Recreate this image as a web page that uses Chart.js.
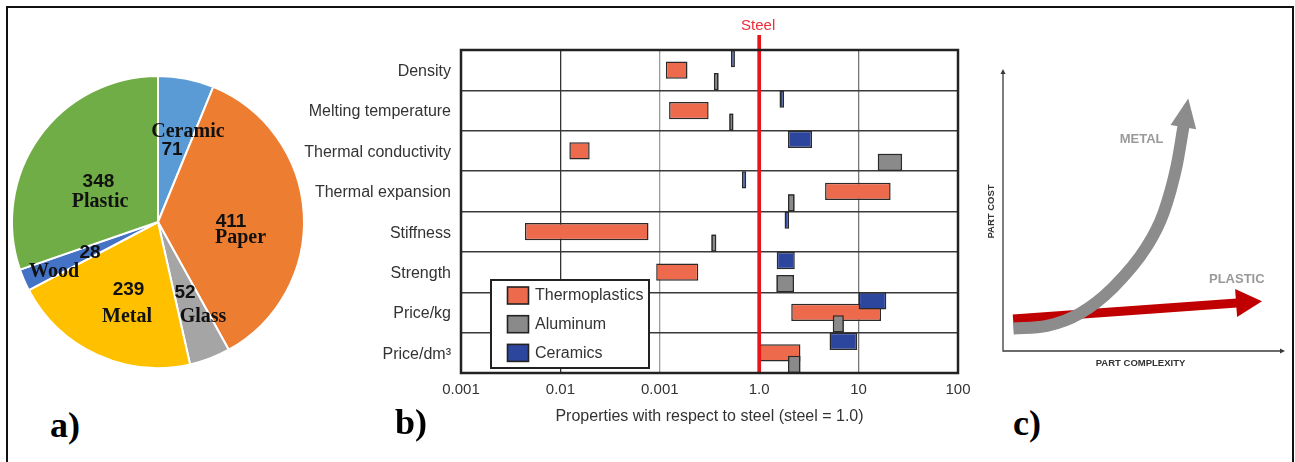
<!DOCTYPE html>
<html>
<head>
<meta charset="utf-8">
<script src="https://cdn.jsdelivr.net/npm/chart.js"></script>
<style>
  html, body { margin: 0; padding: 0; background: #fff; }
  body { width: 1295px; height: 462px; position: relative; overflow: hidden; }
  #frame { position: absolute; left: 6px; top: 6px; width: 1288px; height: 480px;
           box-sizing: border-box; border: 2px solid #111; border-bottom: none; }
  .panel { position: absolute; }
  .panel canvas { display: block; }
  #cost { filter: blur(0.6px); }
  .tag { position: absolute; font: bold 36px "Liberation Serif", "Times New Roman", serif;
         line-height: 1; color: #000; }
</style>
</head>
<body>
<div id="frame"></div>
<div class="panel" style="left:0;top:60px"><canvas id="pie" width="320" height="320"></canvas></div>
<div class="panel" style="left:300px;top:0"><canvas id="props" width="690" height="440"></canvas></div>
<div class="panel" style="left:975px;top:40px"><canvas id="cost" width="315" height="340"></canvas></div>
<div class="tag" style="left:50px;top:407px">a)</div>
<div class="tag" style="left:395px;top:404px">b)</div>
<div class="tag" style="left:1013px;top:405px">c)</div>

<script>
// ---------- a) material shares ----------
const materialNames   = ['Ceramic', 'Paper', 'Glass', 'Metal', 'Wood', 'Plastic'];
const materialAmounts = [71, 411, 52, 239, 28, 348];
const materialColors  = ['#5B9BD5', '#ED7D31', '#A5A5A5', '#FFC000', '#4472C4', '#70AD47'];

// ---------- b) properties relative to steel (min, max) ----------
const propertyNames = ['Density', 'Melting temperature', 'Thermal conductivity', 'Thermal expansion',
                       'Stiffness', 'Strength', 'Price/kg', 'Price/dm³'];
const thermoplasticsRange = [[0.115, 0.19], [0.124, 0.31], [0.0123, 0.0197], [4.6, 21],
                             [0.0044, 0.077], [0.092, 0.244], [2.1, 16.8], [1.02, 2.6]];
const aluminumRange = [[0.35, 0.39], [0.50, 0.55], [15.6, 27.4], [1.95, 2.27],
                       [0.33, 0.37], [1.49, 2.24], [5.5, 7.1], [1.95, 2.6]];
const ceramicsRange = [[0.52, 0.57], [1.6, 1.78], [1.95, 3.4], [0.67, 0.74],
                       [1.8, 2.0], [1.5, 2.28], [10, 19], [5.1, 9.7]];
const axisTickValues = [0.001, 0.01, 0.1, 1, 10, 100];
const axisTickLabels = ['0.001', '0.01', '0.001', '1.0', '10', '100'];
const steelReference = 1;
const legendOrder = ['Thermoplastics', 'Aluminum', 'Ceramics'];

// ---------- c) part cost vs. part complexity ----------
const metalCostCurve = [
  {x: 3.7, y: 8.1}, {x: 15.7, y: 9.0}, {x: 27.6, y: 13.5}, {x: 39.5, y: 22.8},
  {x: 51.5, y: 37.4}, {x: 57.5, y: 49.4}, {x: 62.3, y: 66.7}, {x: 64.7, y: 80.6}
];
const plasticCostLine = [{x: 3.6, y: 11.5}, {x: 83.9, y: 17.2}];

Chart.defaults.font.family = '"Liberation Sans", Arial, sans-serif';
Chart.defaults.animation = false;

/* ================= a) pie ================= */
// label anchors as fractions of the outer radius, measured from the pie centre
const pieLabelLayout = [
  {name: [0.205, -0.616], value: [0.096, -0.493]},
  {name: [0.565, 0.110],  value: [0.500, 0.000]},
  {name: [0.308, 0.651],  value: [0.185, 0.486]},
  {name: [-0.212, 0.651], value: [-0.202, 0.466]},
  {name: [-0.712, 0.342], value: [-0.466, 0.212]},
  {name: [-0.397, -0.137], value: [-0.408, -0.274]}
];

const pieLabels = {
  id: 'pieLabels',
  afterDatasetsDraw(chart) {
    const ctx = chart.ctx;
    const meta = chart.getDatasetMeta(0);
    const arc0 = meta.data[0];
    const cx = arc0.x, cy = arc0.y, r = arc0.outerRadius;
    ctx.save();
    ctx.fillStyle = '#111';
    ctx.textAlign = 'center';
    ctx.textBaseline = 'middle';
    chart.data.labels.forEach((name, i) => {
      const lay = pieLabelLayout[i];
      ctx.font = 'bold 20px "Liberation Serif", "Times New Roman", serif';
      ctx.fillText(name, cx + lay.name[0] * r, cy + lay.name[1] * r);
      ctx.font = 'bold 19px "Liberation Sans", Arial, sans-serif';
      ctx.fillText(String(chart.data.datasets[0].data[i]), cx + lay.value[0] * r, cy + lay.value[1] * r);
    });
    ctx.restore();
  }
};

new Chart(document.getElementById('pie'), {
  type: 'pie',
  data: {
    labels: materialNames,
    datasets: [{
      data: materialAmounts,
      backgroundColor: materialColors,
      borderColor: '#ffffff',
      borderWidth: 2
    }]
  },
  options: {
    responsive: false,
    layout: {padding: {left: 11, top: 15, right: 15, bottom: 11}},
    plugins: {legend: {display: false}, tooltip: {enabled: false}}
  },
  plugins: [pieLabels]
});

/* ================= b) floating bars on a log axis ================= */
const propsDecor = {
  id: 'propsDecor',
  afterDatasetsDraw(chart) {
    const {ctx, chartArea: ca, scales} = chart;

    // aluminium bars sit on top of the thermoplastics bars
    const alu = chart.data.datasets.findIndex(d => d.label === 'Aluminum');
    ctx.save();
    ctx.beginPath();
    ctx.rect(ca.left, ca.top, ca.right - ca.left, ca.bottom - ca.top);
    ctx.clip();
    chart.getDatasetMeta(alu).data.forEach(el => el.draw(ctx));
    ctx.restore();

    // steel reference line
    const sx = scales.x.getPixelForValue(steelReference);
    ctx.save();
    ctx.strokeStyle = '#E8141B';
    ctx.lineWidth = 3.7;
    ctx.beginPath();
    ctx.moveTo(sx, ca.top - 15);
    ctx.lineTo(sx, ca.bottom);
    ctx.stroke();
    ctx.fillStyle = '#EE2D3A';
    ctx.font = '15px "Liberation Sans", Arial, sans-serif';
    ctx.textAlign = 'center';
    ctx.textBaseline = 'middle';
    ctx.fillText('Steel', sx - 1, ca.top - 24.5);
    ctx.restore();

    // legend box in the lower-left of the plot
    const box = {x: ca.left + 30, y: ca.bottom - 93, w: 158, h: 88};
    ctx.save();
    ctx.fillStyle = '#fff';
    ctx.fillRect(box.x, box.y, box.w, box.h);
    ctx.strokeStyle = '#222';
    ctx.lineWidth = 2;
    ctx.strokeRect(box.x, box.y, box.w, box.h);
    ctx.font = '16px "Liberation Sans", Arial, sans-serif';
    ctx.textBaseline = 'middle';
    legendOrder.forEach((name, i) => {
      const ds = chart.data.datasets.find(d => d.label === name);
      const sy = box.y + 7 + i * 28.7;
      ctx.fillStyle = ds.backgroundColor;
      ctx.fillRect(box.x + 16.5, sy, 21, 17);
      ctx.lineWidth = 1.6;
      ctx.strokeStyle = '#222';
      ctx.strokeRect(box.x + 16.5, sy, 21, 17);
      ctx.fillStyle = '#333';
      ctx.fillText(name, box.x + 44, sy + 9);
    });
    ctx.restore();

    // plot frame
    ctx.save();
    ctx.strokeStyle = '#222';
    ctx.lineWidth = 2.5;
    ctx.strokeRect(ca.left, ca.top, ca.right - ca.left, ca.bottom - ca.top);
    ctx.restore();
  }
};

const gridColorFor = v => {
  if (v === 0.01) return '#333333';
  if (v === 0.1) return '#9a9a9a';
  if (v === 10) return '#777777';
  return 'rgba(0,0,0,0)';
};

new Chart(document.getElementById('props'), {
  type: 'bar',
  data: {
    labels: propertyNames,
    datasets: [
      {label: 'Ceramics', data: ceramicsRange, backgroundColor: '#2C469E'},
      {label: 'Thermoplastics', data: thermoplasticsRange, backgroundColor: '#EE6A4C'},
      {label: 'Aluminum', data: aluminumRange, backgroundColor: '#8A8A8A'}
    ]
  },
  options: {
    indexAxis: 'y',
    responsive: false,
    layout: {padding: {top: 50, right: 32, left: 0, bottom: 0}},
    datasets: {
      bar: {categoryPercentage: 0.854, barPercentage: 1.5,
            borderColor: '#2a2a2a', borderWidth: 1.5, borderSkipped: false}
    },
    scales: {
      x: {
        type: 'logarithmic', min: 0.001, max: 100,
        afterBuildTicks(scale) { scale.ticks = axisTickValues.map(v => ({value: v})); },
        afterFit(scale) { scale.height = 67; },
        border: {display: false},
        grid: {drawTicks: false, lineWidth: 1.3, color: ctx => gridColorFor(ctx.tick && ctx.tick.value)},
        ticks: {padding: 8, color: '#333', font: {size: 15}, autoSkip: false, maxRotation: 0,
                callback: (v, i) => axisTickLabels[i]},
        title: {display: true, text: 'Properties with respect to steel (steel = 1.0)',
                color: '#333', font: {size: 16}, padding: {top: 4, bottom: 14}}
      },
      y: {
        afterFit(scale) { scale.width = 161; },
        border: {display: false},
        grid: {drawTicks: false, offset: true, color: '#3a3a3a', lineWidth: 1.5},
        ticks: {padding: 10, color: '#333', font: {size: 16}, labelOffset: 1.5}
      }
    },
    plugins: {legend: {display: false}, tooltip: {enabled: false}}
  },
  plugins: [propsDecor]
});

/* ================= c) cost trend sketch ================= */
const curveLabelAnchors = {METAL: {x: 49.7, y: 75.9}, PLASTIC: {x: 83.8, y: 25.7}};
const arrowHeads = {METAL: {len: 28, half: 13}, PLASTIC: {len: 25, half: 14}};

function drawArrowHead(ctx, bx, by, dx, dy, len, half, color) {
  const n = Math.hypot(dx, dy) || 1;
  const ux = dx / n, uy = dy / n, px = -uy, py = ux;
  ctx.beginPath();
  ctx.moveTo(bx - ux * 1 + px * half, by - uy * 1 + py * half);
  ctx.lineTo(bx + ux * len, by + uy * len);
  ctx.lineTo(bx - ux * 1 - px * half, by - uy * 1 - py * half);
  ctx.closePath();
  ctx.fillStyle = color;
  ctx.fill();
}

const costDecor = {
  id: 'costDecor',
  beforeDatasetsDraw(chart) {
    const {ctx, chartArea: ca} = chart;
    ctx.save();
    ctx.strokeStyle = '#3a3a3a';
    ctx.fillStyle = '#3a3a3a';
    ctx.lineWidth = 1.3;
    ctx.beginPath();
    ctx.moveTo(ca.left, ca.top);
    ctx.lineTo(ca.left, ca.bottom);
    ctx.lineTo(ca.right, ca.bottom);
    ctx.stroke();
    ctx.beginPath();
    ctx.moveTo(ca.left - 2.5, ca.top + 2); ctx.lineTo(ca.left, ca.top - 3); ctx.lineTo(ca.left + 2.5, ca.top + 2);
    ctx.closePath(); ctx.fill();
    ctx.beginPath();
    ctx.moveTo(ca.right - 2, ca.bottom - 2.5); ctx.lineTo(ca.right + 3, ca.bottom); ctx.lineTo(ca.right - 2, ca.bottom + 2.5);
    ctx.closePath(); ctx.fill();

    ctx.fillStyle = '#333';
    ctx.font = 'bold 9.5px "Liberation Sans", Arial, sans-serif';
    ctx.textAlign = 'center';
    ctx.textBaseline = 'middle';
    ctx.fillText('PART COMPLEXITY', (ca.left + ca.right) / 2 - 2, ca.bottom + 12);
    ctx.save();
    ctx.translate(ca.left - 12, (ca.top + ca.bottom) / 2);
    ctx.rotate(-Math.PI / 2);
    ctx.fillText('PART COST', 0, 0);
    ctx.restore();
    ctx.restore();
  },
  afterDatasetsDraw(chart) {
    const {ctx, scales} = chart;
    ctx.save();
    // arrowheads, plastic first so the metal curve stays on top
    for (let d = chart.data.datasets.length - 1; d >= 0; d--) {
      const ds = chart.data.datasets[d];
      const pts = chart.getDatasetMeta(d).data;
      const last = pts[pts.length - 1];
      let fx = last.cp1x, fy = last.cp1y;
      if (fx === undefined || (Math.abs(fx - last.x) < 0.5 && Math.abs(fy - last.y) < 0.5)) {
        fx = pts[pts.length - 2].x; fy = pts[pts.length - 2].y;
      }
      const a = arrowHeads[ds.label];
      drawArrowHead(ctx, last.x, last.y, last.x - fx, last.y - fy, a.len, a.half, ds.borderColor);
    }
    // series names
    ctx.fillStyle = '#9a9a9a';
    ctx.font = 'bold 13px "Liberation Sans", Arial, sans-serif';
    ctx.textAlign = 'center';
    ctx.textBaseline = 'middle';
    chart.data.datasets.forEach(ds => {
      const p = curveLabelAnchors[ds.label];
      ctx.fillText(ds.label, scales.x.getPixelForValue(p.x), scales.y.getPixelForValue(p.y));
    });
    ctx.restore();
  }
};

new Chart(document.getElementById('cost'), {
  type: 'line',
  data: {
    datasets: [
      {label: 'METAL', data: metalCostCurve, borderColor: '#8C8C8C', borderWidth: 12,
       cubicInterpolationMode: 'monotone'},
      {label: 'PLASTIC', data: plasticCostLine, borderColor: '#C00000', borderWidth: 9}
    ]
  },
  options: {
    responsive: false,
    layout: {padding: {left: 28, right: 8, top: 32, bottom: 29}},
    scales: {
      x: {type: 'linear', min: 0, max: 100, display: false},
      y: {type: 'linear', min: 0, max: 100, display: false}
    },
    elements: {point: {radius: 0}, line: {borderCapStyle: 'butt', fill: false}},
    clip: false,
    plugins: {legend: {display: false}, tooltip: {enabled: false}}
  },
  plugins: [costDecor]
});
</script>
</body>
</html>
